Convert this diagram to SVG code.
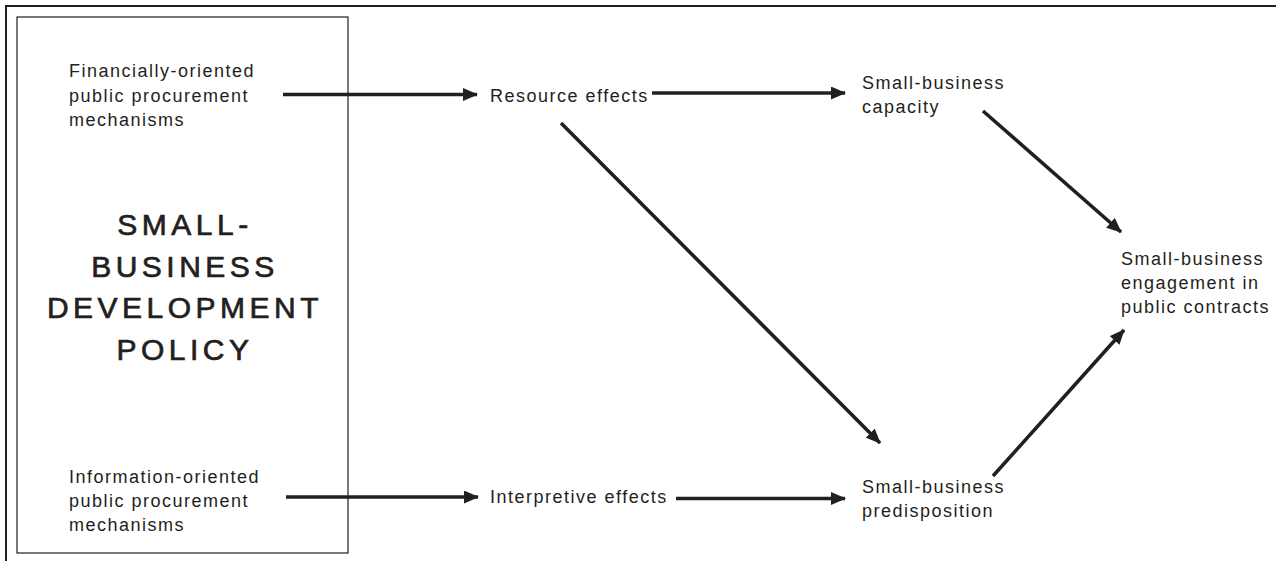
<svg xmlns="http://www.w3.org/2000/svg" width="1276" height="561" viewBox="0 0 1276 561">
<style>
.t{font-family:"Liberation Sans",Arial,sans-serif;font-size:18px;letter-spacing:1.5px;fill:#231f20}
.title{font-family:"Liberation Sans",Arial,sans-serif;font-size:30px;letter-spacing:4.5px;fill:#231f20;stroke:#231f20;stroke-width:0.7;text-anchor:middle}
.c{stroke:#231f20;stroke-width:3.6;fill:none;marker-end:url(#ah)}
</style>
<defs>
<marker id="ah" viewBox="0 0 15 13" refX="14" refY="6.5" markerWidth="15" markerHeight="13" markerUnits="userSpaceOnUse" orient="auto">
<path d="M0,0 L15,6.5 L0,13 Z" fill="#231f20"/>
</marker>
</defs>
<rect width="1276" height="561" fill="#fff"/>
<g id="frame">
<path d="M6,561 V6 H1276" stroke="#231f20" stroke-width="2" fill="none"/>
</g>
<g id="policy">
<rect x="17" y="17" width="331" height="536" fill="none" stroke="#231f20" stroke-width="1.2"/>
<text class="title" x="185" y="235">SMALL-</text>
<text class="title" x="185" y="277">BUSINESS</text>
<text class="title" x="185" y="318">DEVELOPMENT</text>
<text class="title" x="185" y="360">POLICY</text>
</g>
<g id="financial">
<text class="t" x="69" y="77">Financially-oriented</text>
<text class="t" x="69" y="102">public procurement</text>
<text class="t" x="69" y="126">mechanisms</text>
</g>
<g id="information">
<text class="t" x="69" y="483">Information-oriented</text>
<text class="t" x="69" y="507">public procurement</text>
<text class="t" x="69" y="531">mechanisms</text>
</g>
<g id="resource">
<text class="t" x="490" y="102">Resource effects</text>
</g>
<g id="interpretive">
<text class="t" x="490" y="503">Interpretive effects</text>
</g>
<g id="capacity">
<text class="t" x="862" y="89">Small-business</text>
<text class="t" x="862" y="113">capacity</text>
</g>
<g id="predisposition">
<text class="t" x="862" y="493">Small-business</text>
<text class="t" x="862" y="517">predisposition</text>
</g>
<g id="engagement">
<text class="t" x="1121" y="265">Small-business</text>
<text class="t" x="1121" y="289">engagement in</text>
<text class="t" x="1121" y="313">public contracts</text>
</g>
<g id="connectors">
<line class="c" x1="283" y1="94.5" x2="477" y2="94.5"/>
<line class="c" x1="652" y1="93" x2="845" y2="93"/>
<line class="c" x1="561" y1="123" x2="880" y2="443"/>
<line class="c" x1="983" y1="111" x2="1121" y2="232"/>
<line class="c" x1="286" y1="497" x2="478" y2="497"/>
<line class="c" x1="676" y1="498.5" x2="845" y2="498.5"/>
<line class="c" x1="993" y1="476" x2="1124" y2="330"/>
</g>
</svg>
